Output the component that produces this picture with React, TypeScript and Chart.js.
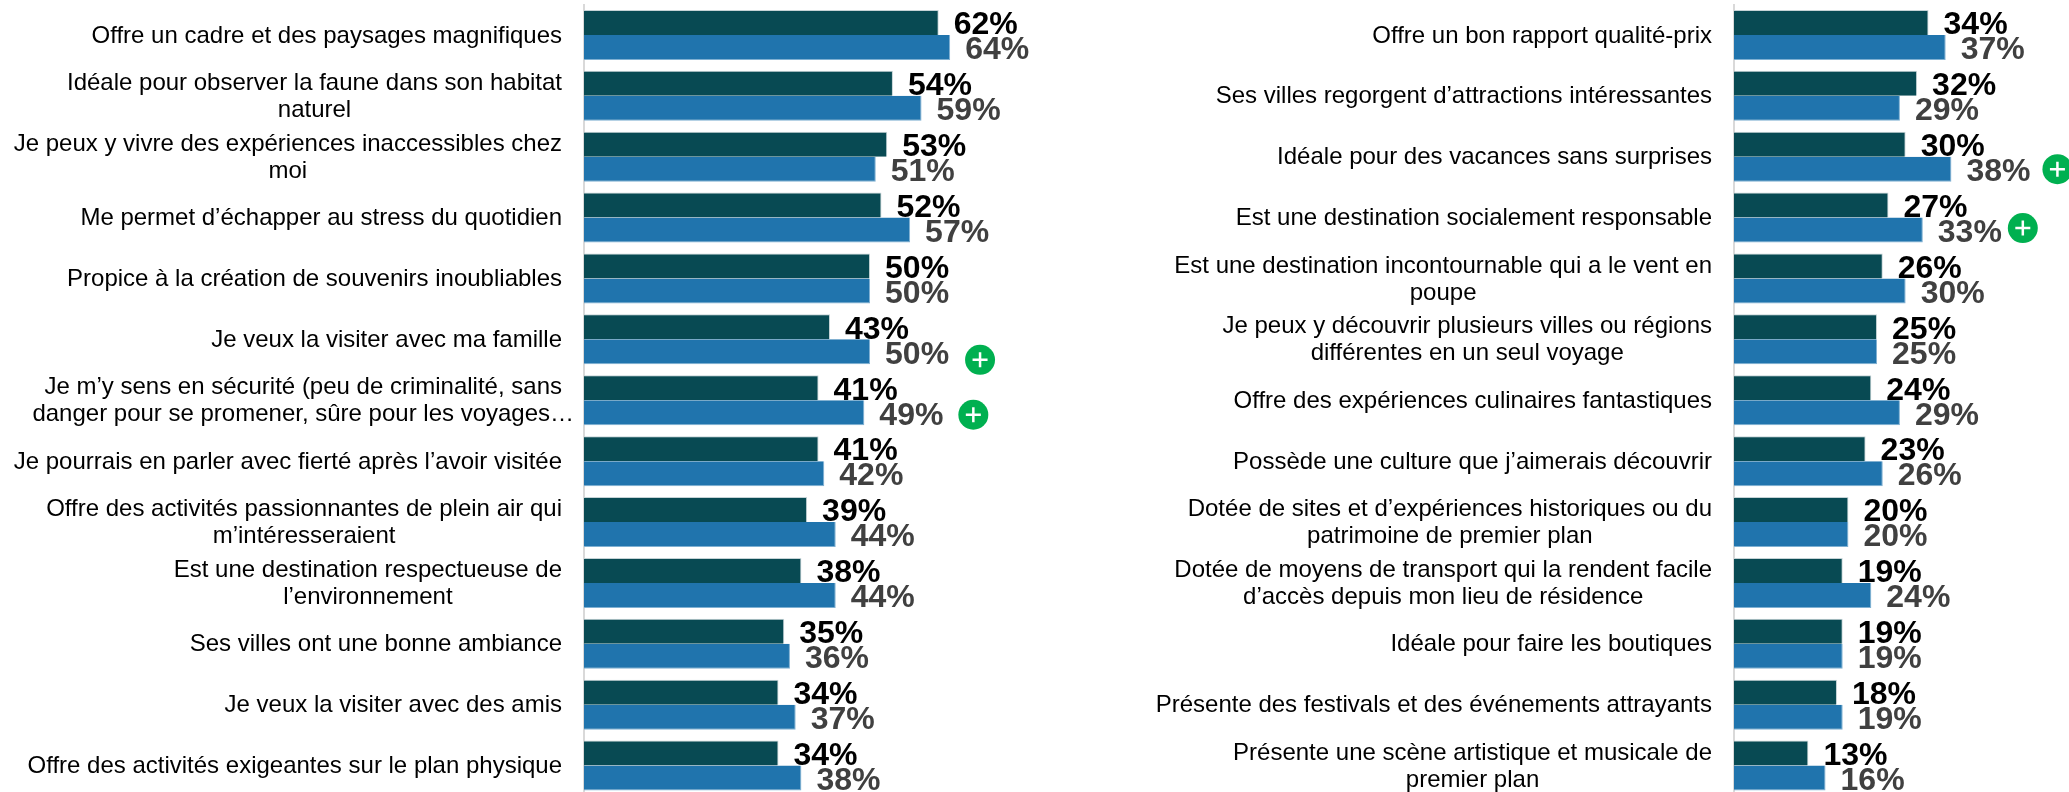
import React, { useEffect, useRef } from "react";
import { Chart, registerables } from "chart.js";

Chart.register(...registerables);

const leftCategories: string[][] = [
  ["Offre un cadre et des paysages magnifiques"],
  ["Idéale pour observer la faune dans son habitat", "naturel"],
  ["Je peux y vivre des expériences inaccessibles chez", "moi"],
  ["Me permet d’échapper au stress du quotidien"],
  ["Propice à la création de souvenirs inoubliables"],
  ["Je veux la visiter avec ma famille"],
  ["Je m’y sens en sécurité (peu de criminalité, sans", "danger pour se promener, sûre pour les voyages…"],
  ["Je pourrais en parler avec fierté après l’avoir visitée"],
  ["Offre des activités passionnantes de plein air qui", "m’intéresseraient"],
  ["Est une destination respectueuse de", "l’environnement"],
  ["Ses villes ont une bonne ambiance"],
  ["Je veux la visiter avec des amis"],
  ["Offre des activités exigeantes sur le plan physique"],
];
const leftDark = [62, 54, 53, 52, 50, 43, 41, 41, 39, 38, 35, 34, 34];
const leftBlue = [64, 59, 51, 57, 50, 50, 49, 42, 44, 44, 36, 37, 38];
const leftPlus = [5, 6];

const rightCategories: string[][] = [
  ["Offre un bon rapport qualité-prix"],
  ["Ses villes regorgent d’attractions intéressantes"],
  ["Idéale pour des vacances sans surprises"],
  ["Est une destination socialement responsable"],
  ["Est une destination incontournable qui a le vent en", "poupe"],
  ["Je peux y découvrir plusieurs villes ou régions", "différentes en un seul voyage"],
  ["Offre des expériences culinaires fantastiques"],
  ["Possède une culture que j’aimerais découvrir"],
  ["Dotée de sites et d’expériences historiques ou du", "patrimoine de premier plan"],
  ["Dotée de moyens de transport qui la rendent facile", "d’accès depuis mon lieu de résidence"],
  ["Idéale pour faire les boutiques"],
  ["Présente des festivals et des événements attrayants"],
  ["Présente une scène artistique et musicale de", "premier plan"],
];
const rightDark = [34, 32, 30, 27, 26, 25, 24, 23, 20, 19, 19, 18, 13];
const rightBlue = [37, 29, 38, 33, 30, 25, 29, 26, 20, 24, 19, 19, 16];
const rightPlus = [2, 3];

const FONT = '"Liberation Sans", Arial, sans-serif';

const annotate = {
  id: "annotate",
  afterDatasetsDraw(chart: any) {
    const o = chart.options.plugins.annotate;
    const { ctx, scales } = chart;
    const yScale = scales.y;
    ctx.save();
    // category labels: first line right-aligned, others centred below it
    ctx.font = `24px ${FONT}`;
    ctx.fillStyle = "#000000";
    ctx.textBaseline = "middle";
    ctx.textAlign = "center";
    const rightEdge = chart.chartArea.left - 22;
    o.categories.forEach((lines: string[], i: number) => {
      const cy = yScale.getPixelForValue(i) + 1;
      const w = ctx.measureText(lines[0]).width;
      const cx = rightEdge - w / 2;
      lines.forEach((line: string, k: number) => {
        ctx.fillText(line, cx, cy + (k - (lines.length - 1) / 2) * 27);
      });
    });
    // value labels
    ctx.textAlign = "left";
    ctx.font = `bold 32px ${FONT}`;
    chart.data.datasets.forEach((ds: any, d: number) => {
      const meta = chart.getDatasetMeta(d);
      ctx.fillStyle = d === 0 ? "#000000" : "#404040";
      meta.data.forEach((bar: any, i: number) => {
        ctx.fillText(`${ds.data[i]}%`, bar.x + 15, bar.y + 3);
      });
    });
    // significance markers
    const blueMeta = chart.getDatasetMeta(1);
    o.plus.forEach((idx: number, n: number) => {
      const bar = blueMeta.data[idx];
      const x = bar.x + o.plusOffsets[n][0];
      const y = bar.y + o.plusOffsets[n][1];
      ctx.beginPath();
      ctx.arc(x, y, 15, 0, Math.PI * 2);
      ctx.fillStyle = "#00B050";
      ctx.fill();
      ctx.strokeStyle = "#FFFFFF";
      ctx.lineWidth = 2.5;
      ctx.beginPath();
      ctx.moveTo(x - 7.5, y);
      ctx.lineTo(x + 7.5, y);
      ctx.moveTo(x, y - 7.5);
      ctx.lineTo(x, y + 7.5);
      ctx.stroke();
    });
    ctx.restore();
  },
};

function Panel(props: {
  left: number;
  width: number;
  axisX: number;
  max: number;
  categories: string[][];
  dark: number[];
  blue: number[];
  plus: number[];
  plusOffsets: number[][];
}) {
  const ref = useRef<HTMLCanvasElement>(null);
  useEffect(() => {
    const chart = new Chart(ref.current as HTMLCanvasElement, {
      type: "bar",
      data: {
        labels: props.categories.map((c) => c.join(" ")),
        datasets: [
          {
            data: props.dark,
            backgroundColor: "#084A53",
            borderColor: "#C5D3D6",
            borderWidth: { top: 1, right: 1, left: 0, bottom: 0 },
            borderSkipped: false,
            barPercentage: 1,
            categoryPercentage: 0.821,
          },
          {
            data: props.blue,
            backgroundColor: "#2074AD",
            borderColor: "#7FB0D2",
            borderWidth: { top: 0, right: 1, left: 0, bottom: 1 },
            borderSkipped: false,
            barPercentage: 1,
            categoryPercentage: 0.821,
          },
        ],
      },
      options: {
        indexAxis: "y",
        animation: false,
        responsive: false,
        layout: { padding: { left: 0, right: 0, top: 4.5, bottom: 4 } },
        scales: {
          x: { display: false, min: 0, max: props.max },
          y: {
            grid: { display: false },
            border: { display: true, color: "#D9D9D9", width: 2 },
            ticks: { display: false },
            afterFit: (s: any) => {
              s.width = props.axisX;
            },
          },
        },
        plugins: {
          legend: { display: false },
          tooltip: { enabled: false },
          annotate: {
            categories: props.categories,
            plus: props.plus,
            plusOffsets: props.plusOffsets,
          },
        },
      } as any,
      plugins: [annotate],
    });
    return () => chart.destroy();
  }, []);
  return (
    <canvas
      ref={ref}
      width={props.width}
      height={800}
      style={{ position: "absolute", left: props.left, top: 0, display: "block", width: props.width, height: 800 }}
    />
  );
}

export default function App() {
  return (
    <div style={{ position: "fixed", left: 0, top: 0, width: 2069, height: 792, overflow: "hidden", background: "#fff" }}>
      <Panel
        left={0}
        width={1064}
        axisX={584}
        max={83.9}
        categories={leftCategories}
        dark={leftDark}
        blue={leftBlue}
        plus={leftPlus}
        plusOffsets={[[110, 8], [109, 2]]}
      />
      <Panel
        left={1080}
        width={989}
        axisX={654}
        max={58.55}
        categories={rightCategories}
        dark={rightDark}
        blue={rightBlue}
        plus={rightPlus}
        plusOffsets={[[106, 0], [100, -2]]}
      />
    </div>
  );
}
